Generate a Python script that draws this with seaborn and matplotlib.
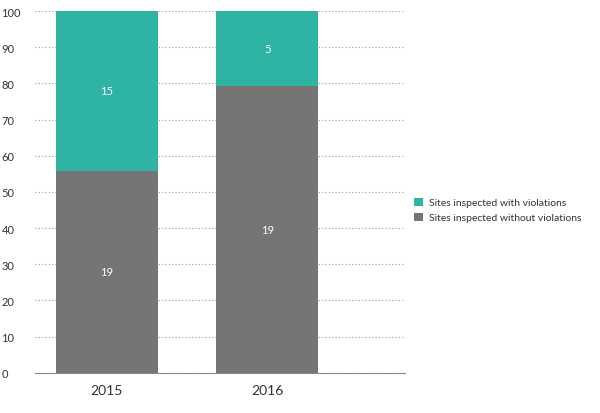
import matplotlib
matplotlib.use("Agg")
import matplotlib.pyplot as plt
import seaborn as sns
import pandas as pd

years = ["2015", "2016"]
with_viol = [15, 5]
without_viol = [19, 19]

totals = [a + b for a, b in zip(with_viol, without_viol)]
pct_without = [b / t * 100 for b, t in zip(without_viol, totals)]
pct_total = [100.0 for _ in totals]
df = pd.DataFrame({"year": years, "total": pct_total, "without": pct_without})

plt.rcParams["font.family"] = "Lato"
fig = plt.figure(figsize=(6, 4.14), dpi=100)
ax = fig.add_axes([0.058, 0.097, 0.617, 0.874])

teal = "#2fb3a3"
gray = "#757575"
sns.barplot(data=df, x="year", y="total", color=teal, width=0.64, ax=ax,
            saturation=1, label="Sites inspected with violations", zorder=3)
sns.barplot(data=df, x="year", y="without", color=gray, width=0.64, ax=ax,
            saturation=1, label="Sites inspected without violations", zorder=3)

for i in range(len(years)):
    ax.text(i, pct_without[i] / 2, str(without_viol[i]), ha="center", va="center",
            color="white", fontsize=8)
    ax.text(i, pct_without[i] + (100 - pct_without[i]) / 2, str(with_viol[i]),
            ha="center", va="center", color="white", fontsize=8)

ax.set_xlim(-0.45, 1.86)
ax.set_ylim(0, 100)
ax.set_yticks(range(0, 101, 10))
ax.yaxis.grid(True, linestyle=(0, (1, 2)), color="#999999", linewidth=0.8, zorder=0)
ax.set_axisbelow(True)
for s in ["top", "right", "left"]:
    ax.spines[s].set_visible(False)
ax.spines["bottom"].set_color("#888888")
ax.tick_params(axis="y", length=0, labelsize=8, colors="#333333")
ax.tick_params(axis="x", length=0, labelsize=10, colors="#333333", pad=8)
ax.set_xlabel("")
ax.set_ylabel("")
for lbl in ax.get_yticklabels():
    lbl.set_horizontalalignment("left")
ax.yaxis.set_tick_params(pad=24)

ax.legend(loc="center left", bbox_to_anchor=(1.0, 0.45), frameon=False,
          fontsize=7.5, handlelength=0.8, handleheight=0.8, handletextpad=0.6,
          labelcolor="#333333")
fig.savefig("out.png", dpi=100)
